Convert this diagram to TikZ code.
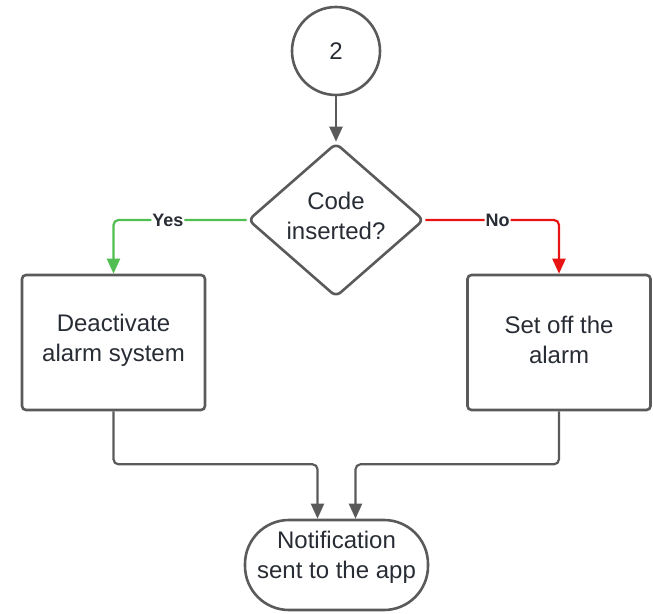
\documentclass[tikz,border=0pt]{standalone}
\usepackage{fontspec}
\setmainfont{Liberation Sans}
\usetikzlibrary{arrows.meta,shapes.geometric}
\definecolor{linegray}{RGB}{90,90,90}
\definecolor{txt}{RGB}{40,44,52}
\definecolor{yesgreen}{RGB}{80,190,80}
\definecolor{nored}{RGB}{232,20,20}
\tikzset{
  every node/.style={text=txt, font=\fontsize{24}{30}\selectfont, align=center},
  shapeline/.style={draw=linegray, line width=2.6pt},
  procbox/.style={shapeline, rectangle, rounded corners=4pt, minimum width=183pt, minimum height=135pt, inner sep=0pt},
  conn/.style={draw=linegray, line width=2.2pt, rounded corners=5pt, -{Triangle[width=13pt,length=15pt]}},
  lbl/.style={fill=white, inner sep=1pt, font=\fontsize{18}{20}\selectfont\bfseries}
}
\begin{document}
\begin{tikzpicture}[x=1pt,y=-1pt]
\useasboundingbox (0,0) rectangle (653,613);
\node[shapeline, circle, minimum size=88pt, inner sep=0pt] (c) at (336,51) {2};
\node[shapeline, diamond, minimum width=176pt, minimum height=154pt, inner sep=0pt, rounded corners=6pt] (d) at (336,220) {};
\node (dt) at (336,216) {Code\\inserted?};
\node[procbox] (l) at (113.5,342.5) {};
\node (lt) at (113.5,340) {Deactivate\\alarm system};
\node[procbox] (r) at (559,342.5) {};
\node (rt) at (559,340) {Set off the\\alarm};
\node[shapeline, rectangle, rounded corners=44pt, minimum width=183pt, minimum height=90pt, inner sep=0pt] (n) at (336.5,565) {};
\node (nt) at (336.5,557) {Notification\\sent to the app};
\draw[conn] (c) -- (d.north);
\draw[conn, draw=yesgreen, -{Triangle[width=13pt,length=15pt,fill=yesgreen]}, color=yesgreen] (d.west) -| (l.north) node[lbl, pos=0.296, text=txt] (yes) {Yes};
\draw[conn, draw=nored, color=nored] (d.east) -| (r.north) node[lbl, pos=0.27, text=txt] (no) {No};
\draw[conn] (l.south) -- ++(0,53) -| ([xshift=-19pt]n.north);
\draw[conn] (r.south) -- ++(0,53) -| ([xshift=19pt]n.north);
\end{tikzpicture}
\end{document}
